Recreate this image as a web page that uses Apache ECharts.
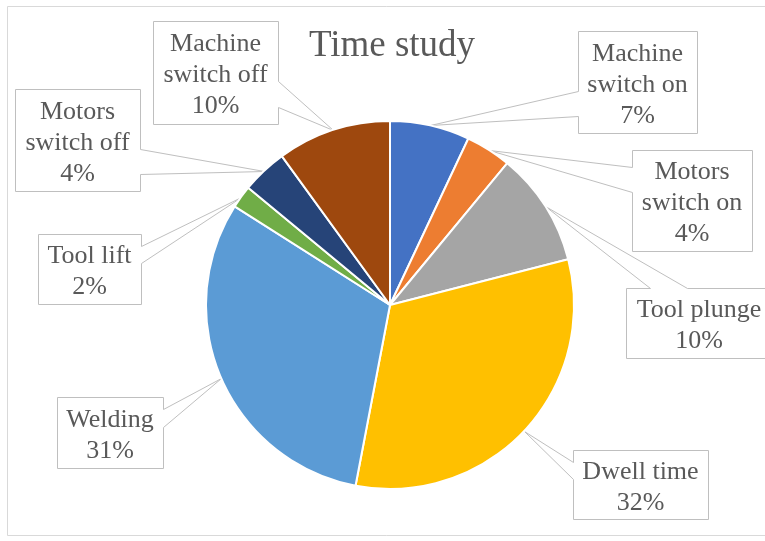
<!DOCTYPE html>
<html>
<head>
<meta charset="utf-8">
<script src="https://cdn.jsdelivr.net/npm/echarts@6/dist/echarts.min.js"></script>
<style>
  html, body { margin: 0; padding: 0; background: #ffffff; }
  #chart { width: 765px; height: 541px; }
</style>
</head>
<body>
<div id="chart"></div>
<script>
// Time study: share of each phase of the cycle
const categories = ['Machine switch on', 'Motors switch on', 'Tool plunge', 'Dwell time',
                    'Welding', 'Tool lift', 'Motors switch off', 'Machine switch off'];
const shares = [7, 4, 10, 32, 31, 2, 4, 10];
const sliceColors = ['#4472C4', '#ED7D31', '#A5A5A5', '#FFC000',
                     '#5B9BD5', '#70AD47', '#264478', '#9E480E'];
const chartTitle = 'Time study';

// Pie geometry and callout boxes [x, y, w, h]
const CX = 390, CY = 305, R = 184;
const calloutBoxes = [
  [578, 31, 119, 102],
  [632, 150, 120, 101],
  [626, 288, 146, 70],
  [573, 450, 135, 69],
  [57, 397, 106, 71],
  [38, 234, 103, 70],
  [15, 89, 125, 102],
  [153, 21, 125, 103]
];

const TEXT = '#595959';
const LINE = '#BFBFBF';
const FONT = "'Liberation Serif', 'Times New Roman', serif";

// tip of each callout: outer edge of the slice at its middle angle
function sliceTip(i) {
  const total = shares.reduce((a, b) => a + b, 0);
  let before = 0;
  for (let k = 0; k < i; k++) before += shares[k];
  const a = 2 * Math.PI * (before + shares[i] / 2) / total;
  return [CX + R * Math.sin(a), CY - R * Math.cos(a)];
}

// rectangle with a wedge pointing to the tip (Office style callout)
function calloutShape(box, tip) {
  const [x, y, w, h] = box;
  const x2 = x + w, y2 = y + h;
  const cx = x + w / 2, cy = y + h / 2;
  const dx = (tip[0] - cx) / w, dy = (tip[1] - cy) / h;
  const pts = [];
  if (Math.abs(dx) > Math.abs(dy)) {
    const f = tip[1] < cy ? [2 / 12, 5 / 12] : [7 / 12, 10 / 12];
    const ya = y + f[0] * h, yb = y + f[1] * h;
    if (dx > 0) {
      pts.push([x, y], [x2, y], [x2, ya], tip, [x2, yb], [x2, y2], [x, y2]);
    } else {
      pts.push([x, y], [x2, y], [x2, y2], [x, y2], [x, yb], tip, [x, ya]);
    }
  } else {
    const f = tip[0] < cx ? [2 / 12, 5 / 12] : [7 / 12, 10 / 12];
    const xa = x + f[0] * w, xb = x + f[1] * w;
    if (dy < 0) {
      pts.push([x, y], [xa, y], tip, [xb, y], [x2, y], [x2, y2], [x, y2]);
    } else {
      pts.push([x, y], [x2, y], [x2, y2], [xb, y2], tip, [xa, y2], [x, y2]);
    }
  }
  return pts.map(p => [Math.round(p[0]) + 0.5, Math.round(p[1]) + 0.5]);
}

function labelText(name, pct) {
  const words = name.split(' ');
  const head = words.length > 2 ? words[0] + '\n' + words.slice(1).join(' ') : name;
  return head + '\n' + pct + '%';
}

const callouts = categories.map((c, i) => ({
  type: 'polygon',
  z: 1,
  shape: { points: calloutShape(calloutBoxes[i], sliceTip(i)) },
  style: { fill: '#ffffff', stroke: LINE, lineWidth: 1 },
  silent: true
}));

const chart = echarts.init(document.getElementById('chart'), null, { renderer: 'canvas' });

chart.setOption({
  backgroundColor: '#ffffff',
  animation: false,
  graphic: [
    {
      type: 'rect', z: 0, silent: true,
      shape: { x: 7.5, y: 6.5, width: 800, height: 529 },
      style: { fill: '#ffffff', stroke: '#D9D9D9', lineWidth: 1 }
    },
    {
      type: 'text', z: 1, silent: true,
      x: 392, y: 46,
      style: {
        text: chartTitle, fill: TEXT,
        font: "37px " + FONT,
        textAlign: 'center', textVerticalAlign: 'middle'
      }
    }
  ].concat(callouts),
  series: [{
    type: 'pie',
    z: 5,
    center: [CX, CY],
    radius: R,
    startAngle: 90,
    clockwise: true,
    avoidLabelOverlap: false,
    itemStyle: { borderColor: '#ffffff', borderWidth: 2 },
    label: {
      show: true,
      formatter: p => labelText(p.name, p.value),
      color: TEXT,
      fontFamily: FONT,
      fontSize: 26,
      lineHeight: 31,
      align: 'center'
    },
    labelLine: { show: false },
    labelLayout: p => {
      const b = calloutBoxes[p.dataIndex];
      return { x: b[0] + b[2] / 2, y: b[1] + b[3] / 2 + 3, align: 'center', verticalAlign: 'middle' };
    },
    emphasis: { disabled: true },
    data: categories.map((c, i) => ({
      name: c, value: shares[i], itemStyle: { color: sliceColors[i] }
    }))
  }]
});
</script>
</body>
</html>
